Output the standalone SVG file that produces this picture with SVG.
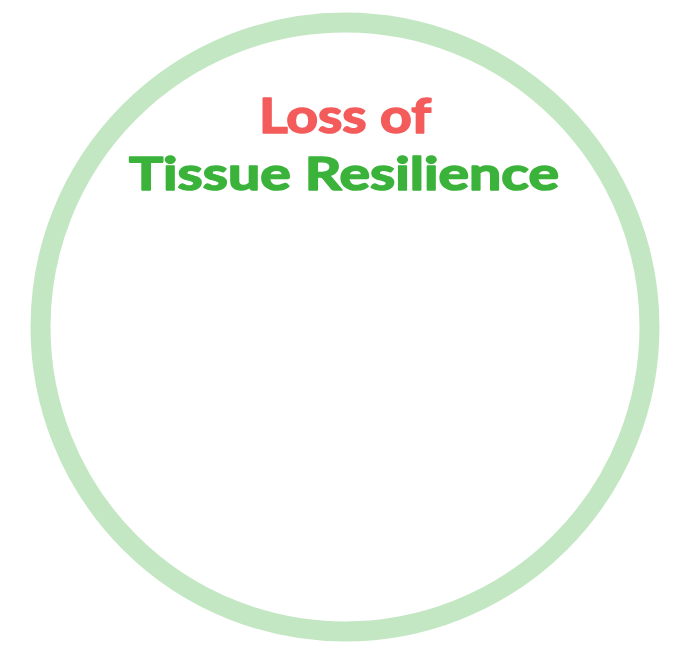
<svg xmlns="http://www.w3.org/2000/svg" width="690" height="668" viewBox="0 0 690 668">
<style>
.t{font-family:Lato,"Open Sans","Liberation Sans",sans-serif;font-weight:bold;text-anchor:middle;stroke-width:1.6;stroke-linejoin:round}
.red{fill:#f45b5b;stroke:#f45b5b}
.green{fill:#3bb33b;stroke:#3bb33b}
</style>
<rect width="690" height="668" fill="#ffffff"/>
<g id="ring">
<circle cx="345" cy="327" r="304.5" fill="none" stroke="#c4e7c3" stroke-width="20"/>
</g>
<g id="title">
<text class="t red" x="345" y="133" font-size="47" textLength="172" lengthAdjust="spacingAndGlyphs">Loss of</text>
<text class="t green" x="344" y="190" font-size="45" textLength="430" lengthAdjust="spacingAndGlyphs">Tissue Resilience</text>
</g>
</svg>
